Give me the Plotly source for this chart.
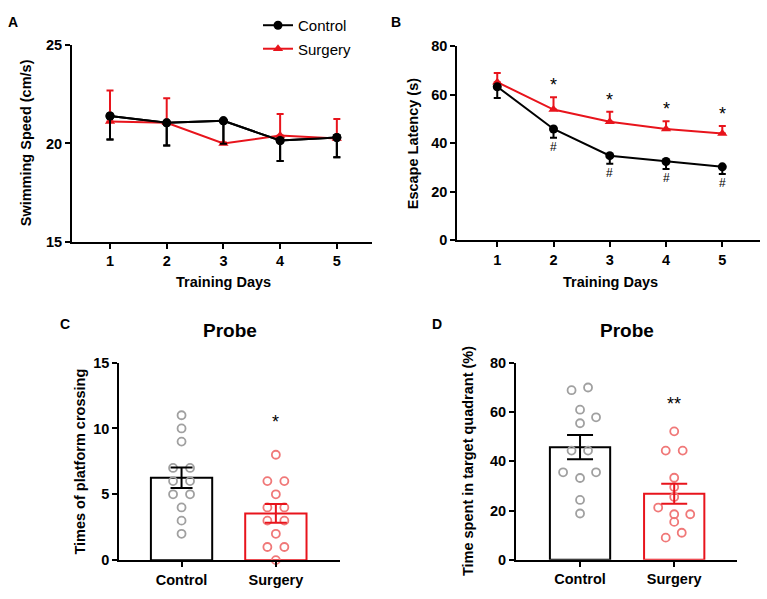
import plotly.graph_objects as go

# ---------------- data ----------------
days = [1, 2, 3, 4, 5]

speed_control = [21.4, 21.05, 21.15, 20.15, 20.3]
speed_control_sem = [1.2, 1.15, 1.17, 1.05, 1.0]
speed_surgery = [21.12, 21.05, 20.0, 20.4, 20.25]
speed_surgery_sem = [1.58, 1.25, 0.05, 1.1, 1.0]

latency_control = [63.3, 45.9, 34.9, 32.5, 30.3]
latency_control_sem = [4.6, 3.6, 3.3, 3.1, 3.0]
latency_surgery = [65.2, 53.9, 48.9, 45.9, 44.0]
latency_surgery_sem = [3.8, 5.1, 4.1, 3.2, 3.1]
star_days = [2, 3, 4, 5]
hash_days = [2, 3, 4, 5]

groups = ["Control", "Surgery"]

cross_mean = [6.25, 3.55]
cross_sem = [0.78, 0.72]
cross_control_pts = [11, 10, 9, 7, 7, 6, 6, 5, 5, 4, 3, 2]
cross_control_off = [0, 0, 0, -0.09, 0.09, -0.09, 0.09, -0.09, 0.09, 0, 0, 0]
cross_surgery_pts = [8, 6, 6, 5, 4, 4, 3, 3, 2, 1, 1, 0]
cross_surgery_off = [0, -0.09, 0.09, 0, -0.09, 0.09, -0.09, 0.09, 0, -0.09, 0.09, 0]

quad_mean = [45.7, 26.8]
quad_sem = [4.9, 4.05]
quad_control_pts = [68.8, 69.9, 60.9, 57.8, 55.4, 44.3, 44.3, 35.5, 35.5, 33.2, 24.3, 18.8]
quad_control_off = [-0.09, 0.085, 0, 0.17, 0, -0.09, 0.085, -0.18, 0.17, 0, 0, 0]
quad_surgery_pts = [52.1, 44.3, 44.3, 33.3, 29.5, 25.5, 21.2, 18.5, 18.5, 15.4, 11.0, 9.0]
quad_surgery_off = [0, -0.09, 0.09, 0, 0, 0, -0.17, 0, 0.17, 0, 0.08, -0.09]

# ---------------- style ----------------
FONT = "Liberation Sans, Arial, sans-serif"
BLACK = "#000000"
RED = "#e8141c"
GRAY = "#a0a0a0"
PINK = "#f07878"
W, H = 767, 599

fig = go.Figure()

# ---- Panel A ----
fig.add_trace(go.Scatter(
    x=days, y=speed_control, mode="lines+markers", name="Control",
    line=dict(color=BLACK, width=2), marker=dict(color=BLACK, size=9, symbol="circle"),
    error_y=dict(type="data", symmetric=False, array=[0] * 5, arrayminus=speed_control_sem,
                 color=BLACK, thickness=2, width=3.5),
    xaxis="x", yaxis="y", legendgroup="c"))
fig.add_trace(go.Scatter(
    x=days, y=speed_surgery, mode="lines+markers", name="Surgery",
    line=dict(color=RED, width=2), marker=dict(color=RED, size=9, symbol="triangle-up"),
    error_y=dict(type="data", symmetric=False, array=speed_surgery_sem, arrayminus=[0] * 5,
                 color=RED, thickness=2, width=3.5),
    xaxis="x", yaxis="y", legendgroup="s"))
# redraw control on top
fig.add_trace(go.Scatter(
    x=days, y=speed_control, mode="lines+markers", showlegend=False,
    line=dict(color=BLACK, width=2), marker=dict(color=BLACK, size=9, symbol="circle"),
    error_y=dict(type="data", symmetric=False, array=[0] * 5, arrayminus=speed_control_sem,
                 color=BLACK, thickness=2, width=3.5),
    xaxis="x", yaxis="y"))

# ---- Panel B ----
fig.add_trace(go.Scatter(
    x=days, y=latency_surgery, mode="lines+markers", showlegend=False,
    line=dict(color=RED, width=2), marker=dict(color=RED, size=9, symbol="triangle-up"),
    error_y=dict(type="data", symmetric=False, array=latency_surgery_sem, arrayminus=[0] * 5,
                 color=RED, thickness=2, width=3.5),
    xaxis="x2", yaxis="y2"))
fig.add_trace(go.Scatter(
    x=days, y=latency_control, mode="lines+markers", showlegend=False,
    line=dict(color=BLACK, width=2), marker=dict(color=BLACK, size=9, symbol="circle"),
    error_y=dict(type="data", symmetric=False, array=[0] * 5, arrayminus=latency_control_sem,
                 color=BLACK, thickness=2, width=3.5),
    xaxis="x2", yaxis="y2"))

# ---- Panel C ----
for i, (col, pts, off, pcol) in enumerate([
        (BLACK, cross_control_pts, cross_control_off, GRAY),
        (RED, cross_surgery_pts, cross_surgery_off, PINK)]):
    fig.add_trace(go.Bar(
        x=[i], y=[cross_mean[i]], width=0.65, showlegend=False,
        marker=dict(color="white", line=dict(color=col, width=2)),
        xaxis="x3", yaxis="y3"))
    fig.add_trace(go.Scatter(
        x=[i + o for o in off], y=pts, mode="markers", showlegend=False,
        marker=dict(symbol="circle-open", size=8, color=pcol, line=dict(width=1.8, color=pcol)),
        cliponaxis=False, xaxis="x3", yaxis="y3"))
    fig.add_trace(go.Scatter(
        x=[i], y=[cross_mean[i]], mode="markers", showlegend=False,
        marker=dict(size=0.1, color=col, opacity=0),
        error_y=dict(type="data", array=[cross_sem[i]], color=col, thickness=2, width=11),
        xaxis="x3", yaxis="y3"))

# ---- Panel D ----
for i, (col, pts, off, pcol) in enumerate([
        (BLACK, quad_control_pts, quad_control_off, GRAY),
        (RED, quad_surgery_pts, quad_surgery_off, PINK)]):
    fig.add_trace(go.Bar(
        x=[i], y=[quad_mean[i]], width=0.64, showlegend=False,
        marker=dict(color="white", line=dict(color=col, width=2)),
        xaxis="x4", yaxis="y4"))
    fig.add_trace(go.Scatter(
        x=[i + o for o in off], y=pts, mode="markers", showlegend=False,
        marker=dict(symbol="circle-open", size=8, color=pcol, line=dict(width=1.8, color=pcol)),
        cliponaxis=False, xaxis="x4", yaxis="y4"))
    fig.add_trace(go.Scatter(
        x=[i], y=[quad_mean[i]], mode="markers", showlegend=False,
        marker=dict(size=0.1, color=col, opacity=0),
        error_y=dict(type="data", array=[quad_sem[i]], color=col, thickness=2, width=13),
        xaxis="x4", yaxis="y4"))

tickfont = dict(family=FONT, size=14.5, color=BLACK, weight="bold")


def ax(domain, rng, anchor, **kw):
    d = dict(domain=domain, range=rng, anchor=anchor, showline=True, linewidth=2,
             linecolor=BLACK, ticks="outside", ticklen=5, tickwidth=2, tickcolor=BLACK,
             showgrid=False, zeroline=False, tickfont=tickfont, fixedrange=True)
    d.update(kw)
    return d


def px_x(p):
    return p / W


def px_y(p):
    return 1 - p / H


fig.update_layout(
    width=W, height=H, margin=dict(l=0, r=0, t=0, b=0),
    paper_bgcolor="white", plot_bgcolor="white", barmode="overlay",
    font=dict(family=FONT, color=BLACK),
    xaxis=ax([px_x(72), px_x(372)], [0.33, 5.62], "y", tickvals=days),
    yaxis=ax([px_y(240), px_y(38.3)], [15, 25], "x", tickvals=[15, 20, 25]),
    xaxis2=ax([px_x(457.3), px_x(760)], [0.29, 5.67], "y2", tickvals=days),
    yaxis2=ax([px_y(238.7), px_y(39.3)], [0, 80], "x2", tickvals=[0, 20, 40, 60, 80]),
    xaxis3=ax([px_x(119.3), px_x(340)], [-0.66, 1.68], "y3", tickvals=[0, 1], ticktext=groups),
    yaxis3=ax([px_y(567.3), px_y(364.3)], [0, 15], "x3", tickvals=[0, 5, 10, 15]),
    xaxis4=ax([px_x(516), px_x(737.3)], [-0.68, 1.67], "y4", tickvals=[0, 1], ticktext=groups),
    yaxis4=ax([px_y(567), px_y(364.3)], [0, 80], "x4", tickvals=[0, 20, 40, 60, 80]),
    legend=dict(x=px_x(258), y=px_y(1), xanchor="left", yanchor="top",
                font=dict(family=FONT, size=15, color=BLACK), bgcolor="rgba(0,0,0,0)",
                tracegroupgap=1),
    showlegend=True,
)

ann = []


def text(x, y, s, size, bold=True, angle=0, xref="paper", yref="paper", **kw):
    d = dict(x=x, y=y, xref=xref, yref=yref, text=s, showarrow=False, textangle=angle,
             font=dict(family=FONT, size=size, color=BLACK, weight="bold" if bold else "normal"),
             xanchor="center", yanchor="middle")
    d.update(kw)
    ann.append(d)


# panel letters
text(px_x(13), px_y(14), "A", 14)
text(px_x(396), px_y(14), "B", 14)
text(px_x(65), px_y(325), "C", 14)
text(px_x(437), px_y(325), "D", 14)
# axis titles
text(px_x(26), px_y(139), "Swimming Speed (cm/s)", 14.5, angle=-90)
text(px_x(413), px_y(139), "Escape Latency (s)", 14.5, angle=-90)
text(px_x(80), px_y(466), "Times of platform crossing", 14.5, angle=-90)
text(px_x(467.5), px_y(466), "Time spent in target quadrant (%)", 14.5, angle=-90)
text(px_x(223), px_y(282), "Training Days", 14.5)
text(px_x(610), px_y(282), "Training Days", 14.5)
text(px_x(230), px_y(331), "Probe", 19)
text(px_x(627), px_y(331), "Probe", 19)

# significance marks
for d in star_days:
    i = days.index(d)
    text(d, latency_surgery[i] + latency_surgery_sem[i], "*", 18, bold=False,
         xref="x2", yref="y2", yshift=12)
for d in hash_days:
    i = days.index(d)
    text(d, latency_control[i] - latency_control_sem[i], "#", 12, bold=False,
         xref="x2", yref="y2", yshift=-9)
text(1, 10.8, "*", 18, bold=False, xref="x3", yref="y3", yshift=-4)
text(1, 65, "**", 18, bold=False, xref="x4", yref="y4", yshift=-4)

fig.update_layout(annotations=ann)

fig.write_html("out.html", config={"displayModeBar": False},
               post_script="document.body.style.margin='0';document.body.style.overflow='hidden';")
